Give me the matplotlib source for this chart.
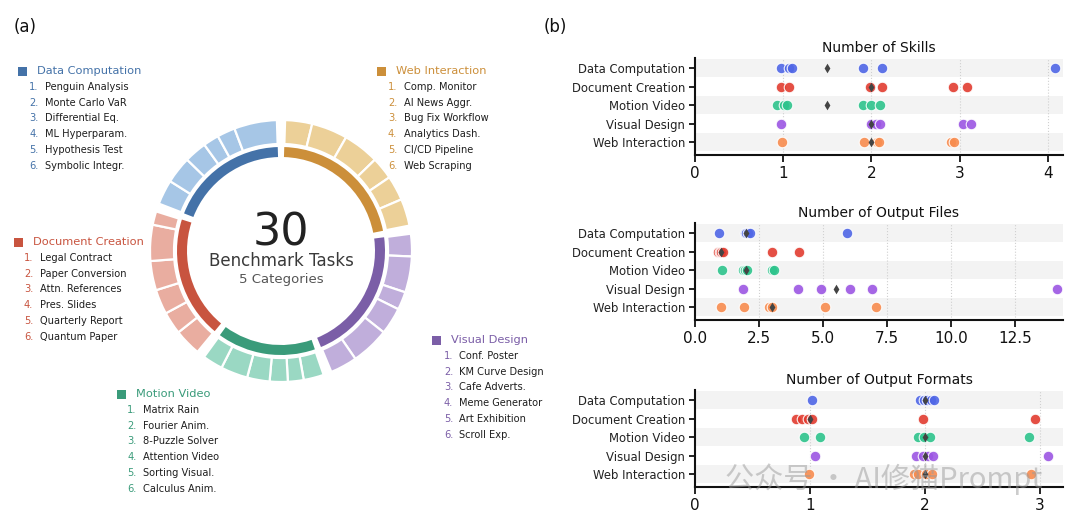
import numpy as np
import matplotlib.pyplot as plt
from matplotlib.patches import Wedge, Rectangle

plt.rcParams['font.family'] = ['DejaVu Sans']

W, H = 1080, 525

# --- data ---
categories = ["Data Computation", "Document Creation", "Motion Video",
              "Visual Design", "Web Interaction"]

tasks_dc = ["Penguin Analysis", "Monte Carlo VaR", "Differential Eq.",
            "ML Hyperparam.", "Hypothesis Test", "Symbolic Integr."]
tasks_doc = ["Legal Contract", "Paper Conversion", "Attn. References",
             "Pres. Slides", "Quarterly Report", "Quantum Paper"]
tasks_mv = ["Matrix Rain", "Fourier Anim.", "8-Puzzle Solver",
            "Attention Video", "Sorting Visual.", "Calculus Anim."]
tasks_vd = ["Conf. Poster", "KM Curve Design", "Cafe Adverts.",
            "Meme Generator", "Art Exhibition", "Scroll Exp."]
tasks_wi = ["Comp. Monitor", "AI News Aggr.", "Bug Fix Workflow",
            "Analytics Dash.", "CI/CD Pipeline", "Web Scraping"]

# ring segment sizes per task (clockwise order around the ring)
ring_wi = [12, 16, 16, 10, 11, 12]
ring_vd = [10, 16, 8, 12, 17, 12]
ring_mv = [9, 7, 8, 10, 12, 9]
ring_doc = [12, 10, 11, 13, 16, 6]
ring_dc = [11, 12, 10, 7, 8, 19]

# strip values per category (as placed in the picture)
skills_dc = [0.98, 1.06, 1.10, 1.90, 2.12, 4.08]
skills_doc = [0.97, 1.07, 1.98, 2.12, 2.92, 3.08]
skills_mv = [0.93, 1.01, 1.04, 1.90, 2.00, 2.10]
skills_vd = [0.97, 1.99, 2.05, 2.10, 3.04, 3.13]
skills_wi = [0.99, 1.92, 2.06, 2.08, 2.90, 2.93]
skills_med = [1.5, 2, 1.5, 2, 2]

files_dc = [0.95, 1.94, 2.00, 2.07, 2.14, 5.93]
files_doc = [0.91, 0.97, 1.03, 1.10, 2.99, 4.08]
files_mv = [1.07, 1.88, 1.96, 2.02, 3.02, 3.08]
files_vd = [1.89, 4.04, 4.93, 6.05, 6.92, 14.12]
files_wi = [1.02, 1.90, 2.88, 2.99, 5.06, 7.08]
files_med = [2, 1, 2, 5.5, 3]

formats_dc = [1.02, 1.96, 1.99, 2.02, 2.05, 2.08]
formats_doc = [0.88, 0.93, 0.98, 1.02, 1.98, 2.96]
formats_mv = [0.95, 1.09, 1.94, 1.99, 2.04, 2.90]
formats_vd = [1.04, 1.92, 1.98, 2.03, 2.07, 3.07]
formats_wi = [0.99, 1.90, 1.94, 2.01, 2.06, 2.92]
formats_med = [2, 1, 2, 2, 2]

# colours
dark = {"Data Computation": "#4472a8", "Document Creation": "#c8543f",
        "Motion Video": "#3a9b7a", "Visual Design": "#7b5ea7",
        "Web Interaction": "#cc8f3a"}
light = {"Data Computation": "#a6c6e6", "Document Creation": "#e9ada0",
         "Motion Video": "#9ad8c3", "Visual Design": "#c0aedb",
         "Web Interaction": "#ecd098"}
dots = {"Data Computation": "#4f66e6", "Document Creation": "#e23c30",
        "Motion Video": "#2ec48c", "Visual Design": "#9b55e3",
        "Web Interaction": "#f88c4f"}

fig = plt.figure(figsize=(W / 100, H / 100), dpi=100)
fig.patch.set_facecolor("white")

# ---------------- (a) donut ----------------
axa = fig.add_axes([0, 0, 540 / W, 1])
axa.set_xlim(0, 540)
axa.set_ylim(0, H)
axa.axis("off")


def Y(y):
    return H - y


cx, cy = 281, Y(251)
gap = 3.6
ring_order = [("Web Interaction", ring_wi), ("Visual Design", ring_vd),
              ("Motion Video", ring_mv), ("Document Creation", ring_doc),
              ("Data Computation", ring_dc)]
total = sum(sum(r) for _, r in ring_order)
scale = (360 - gap * len(ring_order)) / total

ang = 90 - gap / 2
for cat, segs in ring_order:
    start = ang
    for s in segs:
        a1 = ang - s * scale
        axa.add_patch(Wedge((cx, cy), 131, a1, ang, width=24,
                            facecolor=light[cat], edgecolor="white", lw=1.6))
        ang = a1
    axa.add_patch(Wedge((cx, cy), 104, ang, start, width=10,
                        facecolor=dark[cat], edgecolor="none"))
    ang -= gap

axa.text(cx, Y(233), "30", ha="center", va="center", fontsize=32, color="#222222")
axa.text(cx, Y(261), "Benchmark Tasks", ha="center", va="center", fontsize=12, color="#3a3a3a")
axa.text(cx, Y(279), "5 Categories", ha="center", va="center", fontsize=9.5, color="#555555")
axa.text(14, Y(27), "(a)", ha="left", va="center", fontsize=12, color="#111111")

# list blocks: (category, tasks, square x, header y, number x, text x)
blocks = [("Data Computation", tasks_dc, 18, 71, 29, 45),
          ("Web Interaction", tasks_wi, 377, 71, 388, 404),
          ("Document Creation", tasks_doc, 14, 242, 24, 40),
          ("Motion Video", tasks_mv, 117, 394, 127, 143),
          ("Visual Design", tasks_vd, 432, 340, 444, 459)]
for cat, names, sx, hy, nx, tx in blocks:
    axa.add_patch(Rectangle((sx, Y(hy) - 4.5), 9, 9, facecolor=dark[cat], edgecolor="none"))
    axa.text(sx + 19, Y(hy), cat, ha="left", va="center", fontsize=8.2, color=dark[cat])
    for i, name in enumerate(names):
        yy = Y(hy + 15.8 * (i + 1))
        axa.text(nx, yy, f"{i + 1}.", ha="left", va="center", fontsize=7.1, color=dark[cat])
        axa.text(tx, yy, name, ha="left", va="center", fontsize=7.1, color="#1e1e1e")

# ---------------- (b) strip plots ----------------
fig.text(555 / W, 1 - 27 / H, "(b)", ha="center", va="center", fontsize=12, color="#111111")

panels = [
    ("Number of Skills", [skills_dc, skills_doc, skills_mv, skills_vd, skills_wi],
     skills_med, [0, 1, 2, 3, 4], ["0", "1", "2", "3", "4"], 4.17, 155),
    ("Number of Output Files", [files_dc, files_doc, files_mv, files_vd, files_wi],
     files_med, [0, 2.5, 5, 7.5, 10, 12.5], ["0.0", "2.5", "5.0", "7.5", "10.0", "12.5"], 14.37, 320),
    ("Number of Output Formats", [formats_dc, formats_doc, formats_mv, formats_vd, formats_wi],
     formats_med, [0, 1, 2, 3], ["0", "1", "2", "3"], 3.2, 487),
]

for title, series, med, ticks, tlabels, xmax, ybot in panels:
    ax = fig.add_axes([695 / W, 1 - ybot / H, 368 / W, 97 / H])
    for j in range(0, len(categories), 2):
        ax.axhspan(j - 0.5, j + 0.5, color="#f3f3f3", zorder=0, lw=0)
    for t in ticks[1:]:
        ax.axvline(t, color="#d0d0d0", ls=":", lw=0.8, zorder=0.5)
    for j, (cat, vals) in enumerate(zip(categories, series)):
        ax.scatter(vals, [j] * len(vals), s=58, color=dots[cat], edgecolor="white",
                   linewidth=0.8, alpha=0.9, zorder=3)
    ax.scatter(med, range(len(categories)), marker="d", s=24, color="#444444",
               zorder=4, linewidth=0)
    ax.set_xlim(0, xmax)
    ax.set_ylim(4.7, -0.55)
    ax.set_yticks(range(len(categories)))
    ax.set_yticklabels(categories, fontsize=8.4, color="#222222")
    ax.set_xticks(ticks)
    ax.set_xticklabels(tlabels, fontsize=11, color="#111111")
    ax.set_title(title, fontsize=10, color="#111111", pad=4)
    for side in ["top", "right"]:
        ax.spines[side].set_visible(False)
    for side in ["left", "bottom"]:
        ax.spines[side].set_linewidth(1.5)
        ax.spines[side].set_color("#111111")
    ax.tick_params(axis="y", length=4, width=1.2, pad=3)
    ax.tick_params(axis="x", length=5, width=1.2, pad=3)
    ax.set_facecolor("white")

# watermark
fig.text(725 / W, 1 - 479 / H, "公众号 · AI修猫Prompt", ha="left", va="center",
         fontsize=21, color="#9a9a9a", alpha=0.5,
         family=["Noto Sans CJK SC", "DejaVu Sans"])

fig.savefig("out.png", dpi=100)
